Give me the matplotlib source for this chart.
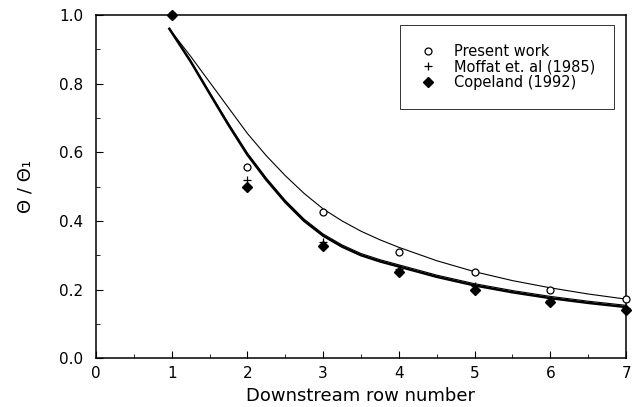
import matplotlib
matplotlib.use('Agg')
import matplotlib.pyplot as plt
from matplotlib.ticker import MultipleLocator

# DATA
rows = [1, 2, 3, 4, 5, 6, 7]
present_work = [1.0, 0.557, 0.426, 0.31, 0.25, 0.198, 0.172]
moffat_1985 = [1.0, 0.52, 0.34, 0.26, 0.21, 0.17, 0.145]
copeland_1992 = [1.0, 0.50, 0.327, 0.25, 0.20, 0.163, 0.14]

# model curves
curve_x = [0.97, 1.25, 1.5, 1.75, 2.0, 2.25, 2.5, 2.75, 3.0, 3.25, 3.5, 3.75,
           4.0, 4.5, 5.0, 5.5, 6.0, 6.5, 7.0]
curve_upper = [0.96, 0.88, 0.805, 0.73, 0.655, 0.59, 0.532, 0.48, 0.435, 0.4,
               0.37, 0.345, 0.323, 0.284, 0.252, 0.226, 0.205, 0.187, 0.172]
curve_lower = [0.96, 0.865, 0.772, 0.68, 0.593, 0.52, 0.455, 0.40, 0.357, 0.325,
               0.30, 0.282, 0.267, 0.237, 0.212, 0.192, 0.175, 0.161, 0.149]
curve_lower2 = [0.96, 0.867, 0.775, 0.684, 0.598, 0.525, 0.46, 0.405, 0.362, 0.33,
                0.305, 0.287, 0.272, 0.242, 0.217, 0.197, 0.18, 0.166, 0.154]

plt.rcParams['font.family'] = ['DejaVu Sans']

fig = plt.figure(figsize=(6.35, 4.07), dpi=100)
ax = fig.add_axes([0.151, 0.120, 0.835, 0.843])

ax.plot(curve_x, curve_upper, color='black', lw=0.8)
ax.plot(curve_x, curve_lower2, color='black', lw=0.8)
ax.plot(curve_x, curve_lower, color='black', lw=1.8)

ax.plot(rows, present_work, 'o', ms=5, mfc='white', mec='black', mew=0.9,
        label='Present work', clip_on=False, zorder=3)
ax.plot(rows, moffat_1985, '+', ms=6, color='black', mew=0.9,
        label='Moffat et. al (1985)', clip_on=False, zorder=4)
ax.plot(rows, copeland_1992, 'D', ms=5, color='black',
        label='Copeland (1992)', clip_on=False, zorder=3)

ax.set_xlim(0, 7)
ax.set_ylim(0, 1.0)
ax.xaxis.set_major_locator(MultipleLocator(1))
ax.xaxis.set_minor_locator(MultipleLocator(0.5))
ax.yaxis.set_major_locator(MultipleLocator(0.2))
ax.yaxis.set_minor_locator(MultipleLocator(0.1))
ax.set_yticklabels([f'{v:.1f}' for v in ax.get_yticks()])
ax.tick_params(which='both', direction='in', labelsize=11, color='black')
ax.tick_params(which='major', length=5)
ax.tick_params(which='minor', length=3)
ax.tick_params(axis='x', pad=6)
ax.tick_params(axis='y', pad=9)
for s in ax.spines.values():
    s.set_linewidth(1.1)

ax.set_xlabel('Downstream row number', fontsize=13, labelpad=4)
ax.set_ylabel('Θ / Θ₁', fontsize=13, labelpad=18)

leg = ax.legend(loc='upper right', bbox_to_anchor=(0.978, 0.972), fontsize=10.5,
                frameon=True, fancybox=False, edgecolor='black', handlelength=1.2,
                handletextpad=1.2, borderpad=1.3, labelspacing=0.05, borderaxespad=0)
leg.get_frame().set_linewidth(0.7)

fig.savefig('out.png', dpi=100)
